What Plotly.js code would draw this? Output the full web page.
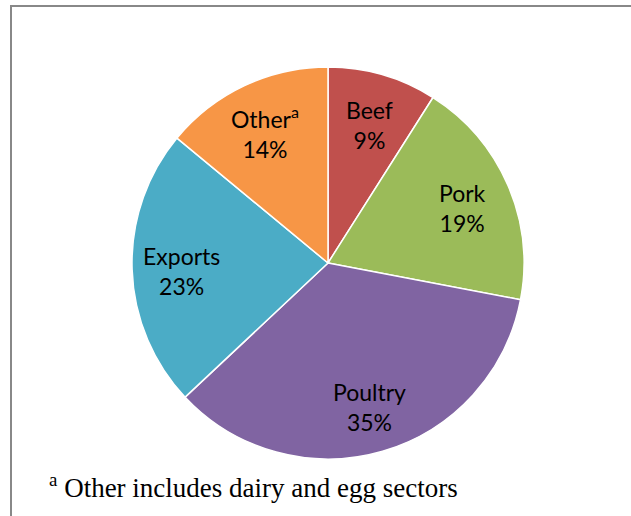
<!DOCTYPE html>
<html>
<head>
<meta charset="utf-8">
<script src="https://cdn.plot.ly/plotly-3.0.1.min.js"></script>
<style>
html,body{margin:0;padding:0;background:#fff;}
#frame{position:absolute;left:10px;top:5px;width:640px;height:520px;border-left:2px solid #888;border-top:2px solid #888;box-sizing:border-box;}
#chart{position:absolute;left:0;top:0;width:631px;height:516px;}
</style>
</head>
<body>
<div id="frame"></div>
<div id="chart"></div>
<script>
const categories = ["Beef", "Pork", "Poultry", "Exports", "Other<sup>a</sup>"];
const shares = [9, 19, 35, 23, 14];
const colors = ["#C0504D", "#9BBB59", "#8064A2", "#4BACC6", "#F79646"];
const footnote = "<sup>a</sup> Other includes dairy and egg sectors";

const W = 631, H = 516, cx = 328, cy = 263, r = 196, labelR = 0.75 * r;

// label positions derived from slice mid-angles (clockwise from 12 o'clock)
const total = shares.reduce((a, b) => a + b, 0);
let cum = 0;
const labelAnns = categories.map((c, i) => {
  const mid = (cum + shares[i] / 2) / total * 2 * Math.PI;
  cum += shares[i];
  const px = cx + labelR * Math.sin(mid);
  const py = cy - labelR * Math.cos(mid) + 3;
  return {
    text: c + "<br>" + shares[i] + "%",
    x: px / W, y: (H - py) / H, xref: "paper", yref: "paper",
    xanchor: "center", yanchor: "middle", showarrow: false, align: "center",
    font: {family: "Lato, Open Sans, sans-serif", size: 23, color: "#000"}
  };
});

Plotly.newPlot("chart", [{
  type: "pie",
  labels: categories,
  values: shares,
  sort: false,
  direction: "clockwise",
  rotation: 0,
  marker: {colors: colors, line: {color: "#fff", width: 1.5}},
  textinfo: "none",
  hoverinfo: "none",
  domain: {x: [(cx - r) / W, (cx + r) / W], y: [(H - cy - r) / H, (H - cy + r) / H]},
  showlegend: false
}], {
  width: W, height: H,
  margin: {l: 0, r: 0, t: 0, b: 0},
  paper_bgcolor: "rgba(0,0,0,0)",
  plot_bgcolor: "rgba(0,0,0,0)",
  annotations: labelAnns.concat([{
    text: footnote, x: 47 / W, y: (H - 486) / H, xref: "paper", yref: "paper",
    xanchor: "left", yanchor: "middle", showarrow: false,
    font: {family: "Liberation Serif, Times New Roman, serif", size: 27, color: "#000"}
  }])
}, {staticPlot: true});
</script>
</body>
</html>
